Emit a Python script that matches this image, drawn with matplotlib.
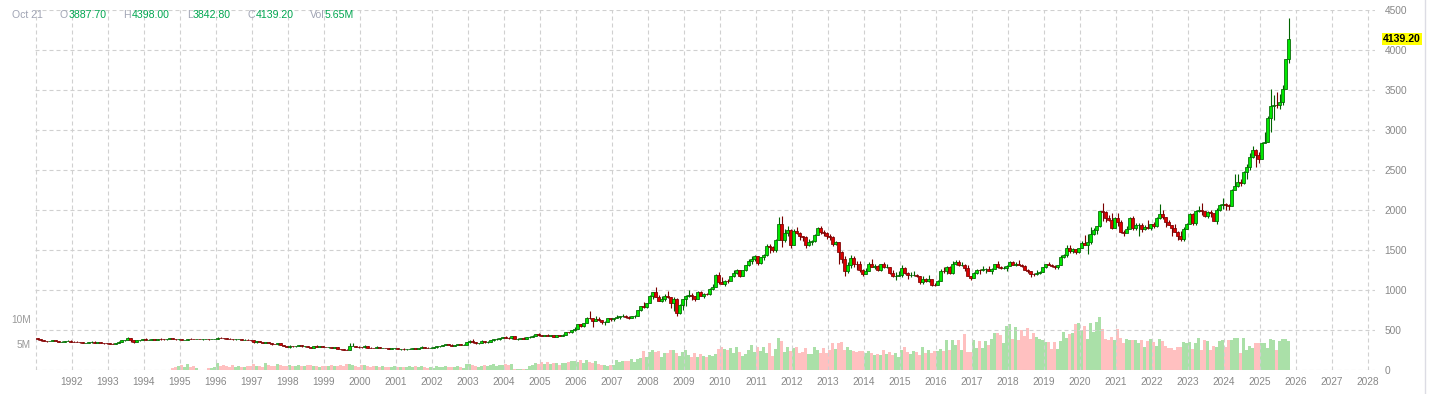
import numpy as np
import matplotlib
matplotlib.use('Agg')
import matplotlib.pyplot as plt
from matplotlib.lines import Line2D
from matplotlib.transforms import blended_transform_factory

plt.rcParams['font.family'] = ['Liberation Sans', 'DejaVu Sans']

# monthly candles, Jan 1991 .. Oct 2025
first_year = 1991
first_open = 400.0

closes = [
    385, 372, 364, 360, 363, 370, 365, 352, 356, 360, 368, 356,  # 1991
    354, 353, 345, 340, 340, 344, 356, 342, 349, 340, 336, 333,  # 1992
    329, 328, 337, 355, 377, 378, 401, 372, 356, 369, 371, 391,  # 1993
    378, 381, 390, 376, 387, 386, 384, 385, 394, 389, 383, 383,  # 1994
    375, 376, 392, 390, 387, 388, 383, 383, 384, 383, 387, 387,  # 1995
    405, 400, 396, 392, 391, 382, 385, 386, 379, 379, 371, 369,  # 1996
    346, 358, 349, 340, 345, 334, 326, 325, 332, 311, 296, 290,  # 1997
    304, 297, 301, 309, 294, 296, 288, 273, 294, 292, 294, 288,  # 1998
    287, 288, 279, 286, 267, 261, 256, 255, 300, 300, 292, 290,  # 1999
    284, 294, 279, 275, 274, 289, 277, 278, 275, 265, 270, 274,  # 2000
    266, 267, 258, 264, 265, 270, 266, 273, 293, 279, 275, 279,  # 2001
    282, 297, 302, 309, 326, 318, 304, 312, 324, 318, 318, 348,  # 2002
    368, 348, 336, 339, 364, 346, 355, 375, 384, 386, 398, 416,  # 2003
    399, 396, 427, 387, 393, 395, 391, 410, 416, 429, 452, 438,  # 2004
    423, 437, 429, 436, 417, 436, 429, 433, 473, 470, 495, 518,  # 2005
    569, 556, 584, 654, 645, 616, 634, 626, 599, 606, 648, 635,  # 2006
    651, 668, 670, 681, 659, 650, 669, 673, 745, 795, 783, 838,  # 2007
    928, 975, 917, 866, 888, 931, 913, 833, 884, 716, 816, 884,  # 2008
    928, 942, 924, 891, 979, 927, 954, 953, 1009, 1040, 1182, 1097,  # 2009
    1081, 1118, 1113, 1180, 1215, 1245, 1181, 1248, 1308, 1359, 1386, 1421,  # 2010
    1333, 1410, 1439, 1556, 1536, 1502, 1628, 1829, 1624, 1714, 1746, 1566,  # 2011
    1740, 1711, 1669, 1664, 1561, 1604, 1610, 1691, 1776, 1719, 1714, 1676,  # 2012
    1662, 1578, 1596, 1476, 1393, 1234, 1313, 1396, 1327, 1323, 1250, 1202,  # 2013
    1240, 1321, 1284, 1296, 1246, 1322, 1282, 1287, 1210, 1171, 1175, 1184,  # 2014
    1278, 1213, 1183, 1183, 1190, 1172, 1095, 1132, 1115, 1142, 1065, 1061,  # 2015
    1118, 1238, 1234, 1291, 1215, 1321, 1350, 1312, 1317, 1276, 1173, 1152,  # 2016
    1210, 1253, 1249, 1266, 1268, 1242, 1267, 1321, 1284, 1270, 1276, 1303,  # 2017
    1345, 1318, 1327, 1315, 1299, 1253, 1233, 1206, 1196, 1215, 1226, 1283,  # 2018
    1325, 1316, 1298, 1286, 1311, 1413, 1437, 1529, 1485, 1514, 1473, 1523,  # 2019
    1588, 1566, 1597, 1694, 1751, 1800, 1986, 1973, 1895, 1880, 1780, 1895,  # 2020
    1850, 1728, 1715, 1768, 1905, 1771, 1817, 1818, 1757, 1783, 1774, 1829,  # 2021
    1796, 1901, 1949, 1911, 1848, 1807, 1781, 1726, 1672, 1640, 1768, 1826,  # 2022
    1945, 1836, 1986, 2000, 1982, 1929, 1970, 1966, 1866, 2002, 2057, 2072,  # 2023
    2068, 2054, 2254, 2302, 2346, 2339, 2473, 2536, 2660, 2750, 2682, 2641,  # 2024
    2835, 2849, 3150, 3305, 3315, 3307, 3348, 3516, 3887.7, 4139.2,  # 2025
]

highs = [
    406, 388, 375, 366, 366, 373, 372, 367, 359, 363, 371, 369,
    362, 358, 354, 346, 343, 346, 362, 358, 351, 350, 341, 337,
    335, 334, 338, 357, 378, 380, 410, 406, 374, 372, 376, 392,
    395, 385, 392, 392, 388, 396, 389, 387, 398, 398, 393, 385,
    385, 380, 393, 395, 391, 390, 389, 391, 388, 387, 389, 390,
    418, 416, 401, 400, 394, 392, 390, 390, 387, 385, 383, 373,
    369, 364, 359, 352, 349, 346, 335, 329, 336, 338, 314, 298,
    307, 304, 302, 314, 312, 298, 297, 289, 300, 307, 300, 297,
    292, 291, 290, 291, 289, 268, 264, 259, 338, 340, 305, 295,
    292, 315, 296, 289, 281, 294, 291, 281, 279, 274, 272, 275,
    274, 268, 269, 266, 273, 272, 271, 278, 296, 293, 282, 282,
    285, 302, 304, 310, 327, 330, 322, 313, 326, 325, 324, 349,
    373, 389, 350, 340, 373, 367, 358, 375, 393, 394, 399, 418,
    427, 418, 428, 431, 395, 401, 409, 416, 420, 435, 456, 457,
    443, 439, 446, 437, 437, 442, 438, 447, 475, 481, 497, 538,
    572, 575, 585, 660, 732, 647, 675, 668, 629, 612, 650, 654,
    655, 690, 673, 697, 691, 669, 679, 683, 750, 799, 848, 841,
    935, 975, 1033, 934, 927, 945, 988, 914, 912, 903, 824, 888,
    932, 1006, 958, 930, 983, 990, 958, 966, 1023, 1073, 1196, 1227,
    1161, 1127, 1135, 1180, 1249, 1265, 1244, 1248, 1309, 1388, 1425, 1432,
    1424, 1412, 1448, 1577, 1578, 1556, 1632, 1912, 1920, 1763, 1804, 1763,
    1764, 1792, 1725, 1680, 1670, 1640, 1629, 1694, 1790, 1798, 1755, 1724,
    1698, 1681, 1617, 1605, 1488, 1424, 1347, 1434, 1426, 1362, 1361, 1267,
    1280, 1345, 1392, 1331, 1315, 1326, 1346, 1324, 1287, 1256, 1223, 1238,
    1307, 1284, 1224, 1224, 1232, 1205, 1175, 1170, 1156, 1191, 1142, 1088,
    1130, 1263, 1287, 1306, 1303, 1362, 1377, 1375, 1352, 1326, 1307, 1181,
    1220, 1264, 1261, 1295, 1272, 1297, 1275, 1331, 1362, 1306, 1300, 1310,
    1366, 1362, 1356, 1370, 1326, 1309, 1262, 1236, 1214, 1245, 1240, 1285,
    1326, 1349, 1330, 1310, 1311, 1443, 1453, 1566, 1566, 1519, 1516, 1525,
    1613, 1691, 1704, 1788, 1775, 1800, 1986, 2089, 1992, 1933, 1966, 1907,
    1959, 1876, 1755, 1798, 1917, 1919, 1837, 1834, 1836, 1813, 1877, 1831,
    1853, 1914, 2078, 2002, 1912, 1880, 1814, 1824, 1735, 1734, 1786, 1833,
    1959, 1959, 2003, 2048, 2085, 1985, 1988, 2000, 1953, 2019, 2073, 2152,
    2088, 2075, 2257, 2448, 2454, 2388, 2485, 2570, 2708, 2801, 2762, 2726,
    2853, 2975, 3176, 3509, 3435, 3476, 3451, 3557, 3889, 4398,
]

lows = [
    381, 368, 358, 356, 357, 360, 361, 349, 349, 354, 357, 353,
    352, 350, 343, 337, 336, 338, 342, 339, 340, 338, 331, 330,
    326, 326, 327, 336, 355, 366, 377, 350, 343, 355, 362, 370,
    373, 375, 379, 371, 374, 381, 380, 374, 384, 386, 381, 374,
    371, 372, 374, 388, 382, 382, 382, 380, 382, 381, 382, 384,
    387, 396, 393, 390, 389, 381, 380, 384, 378, 378, 370, 367,
    342, 341, 348, 336, 339, 332, 314, 319, 316, 307, 294, 285,
    279, 290, 293, 299, 292, 284, 287, 271, 273, 289, 292, 285,
    283, 280, 279, 279, 266, 256, 253, 252, 255, 294, 290, 276,
    281, 280, 276, 272, 270, 276, 276, 271, 269, 264, 264, 264,
    262, 255, 256, 256, 264, 266, 265, 264, 271, 276, 272, 272,
    277, 280, 290, 300, 308, 317, 303, 301, 312, 311, 316, 319,
    343, 338, 324, 324, 338, 342, 342, 353, 368, 371, 381, 398,
    396, 391, 390, 384, 375, 383, 388, 386, 397, 411, 429, 431,
    419, 421, 425, 425, 415, 416, 419, 429, 433, 460, 459, 488,
    518, 538, 541, 584, 642, 542, 612, 612, 574, 560, 603, 612,
    608, 645, 637, 665, 650, 639, 649, 648, 673, 735, 776, 780,
    836, 882, 911, 864, 856, 859, 902, 772, 735, 681, 705, 752,
    802, 913, 879, 865, 882, 920, 904, 934, 940, 997, 1041, 1075,
    1073, 1045, 1088, 1125, 1158, 1201, 1157, 1177, 1240, 1306, 1329, 1357,
    1309, 1330, 1381, 1421, 1462, 1478, 1481, 1620, 1532, 1604, 1670, 1523,
    1562, 1694, 1628, 1610, 1527, 1551, 1567, 1595, 1687, 1694, 1672, 1636,
    1626, 1555, 1565, 1322, 1338, 1180, 1208, 1275, 1292, 1251, 1228, 1180,
    1203, 1238, 1282, 1268, 1240, 1240, 1281, 1273, 1205, 1161, 1131, 1169,
    1168, 1200, 1142, 1167, 1170, 1162, 1077, 1081, 1097, 1104, 1053, 1046,
    1061, 1110, 1208, 1206, 1199, 1200, 1310, 1302, 1305, 1242, 1171, 1123,
    1147, 1204, 1196, 1243, 1214, 1237, 1205, 1266, 1280, 1260, 1265, 1237,
    1302, 1307, 1303, 1312, 1285, 1250, 1211, 1160, 1181, 1182, 1196, 1222,
    1278, 1312, 1286, 1268, 1267, 1310, 1395, 1411, 1465, 1462, 1454, 1461,
    1519, 1566, 1451, 1572, 1682, 1700, 1787, 1863, 1851, 1859, 1765, 1776,
    1803, 1716, 1677, 1722, 1770, 1750, 1750, 1678, 1722, 1746, 1763, 1753,
    1781, 1784, 1890, 1885, 1787, 1808, 1681, 1724, 1622, 1617, 1618, 1765,
    1827, 1809, 1811, 1971, 1943, 1913, 1902, 1913, 1859, 1823, 1984, 2018,
    2002, 2001, 2051, 2280, 2286, 2304, 2331, 2392, 2497, 2645, 2541, 2590,
    2633, 2835, 2845, 2970, 3121, 3281, 3268, 3315, 3510, 3842.8,
]

# volume in millions
volumes = [
    0, 0, 0, 0, 0, 0, 0, 0, 0, 0, 0, 0,
    0, 0, 0, 0, 0, 0, 0, 0, 0, 0, 0, 0,
    0, 0, 0, 0, 0, 0, 0, 0, 0, 0, 0, 0,
    0, 0, 0, 0, 0, 0, 0, 0, 0, 0.3, 0.6, 0.8,
    1.0, 0.6, 1.1, 0.5, 0.7, 0.4, 0, 0, 0, 0.3, 0.4, 0.5,
    1.3, 0.8, 0.9, 0.8, 0.6, 0.9, 0.5, 0.7, 0.6, 0.5, 0.8, 0.7,
    1.2, 0.7, 0.8, 0.6, 1.3, 0.9, 0.8, 0.7, 1.1, 0.9, 0.8, 0.7,
    1.0, 0.7, 0.8, 0.9, 0.8, 0.7, 0.9, 1.0, 0.7, 0.8, 0.6, 0.7,
    0.8, 0.7, 0.9, 0.8, 0.7, 1.0, 0.8, 1.1, 1.2, 0.9, 0.8, 0.6,
    0.9, 1.0, 0.7, 0.6, 0.8, 0.7, 0.6, 0.7, 0.5, 0.6, 0.5, 0.7,
    0.6, 0.5, 0.5, 0.6, 0.7, 0.5, 0.8, 0.5, 0.7, 0.5, 0.4, 0.5,
    0.4, 0.7, 0.5, 0.6, 0.8, 0.6, 0.5, 0.6, 0.7, 0.5, 0.4, 1.1,
    1.2, 0.9, 0.8, 0.5, 0.8, 0.9, 0.7, 0.9, 1.1, 0.8, 0.9, 1.0,
    1.2, 1.0, 1.1, 0.1, 0.2, 0.1, 0.1, 0.1, 0.7, 1.0, 1.4, 1.1,
    1.5, 1.2, 1.5, 1.1, 1.3, 1.3, 0.9, 1.3, 1.4, 1.5, 1.7, 1.8,
    1.6, 1.9, 1.3, 1.9, 1.5, 1.3, 1.7, 1.2, 1.0, 0.9, 0.8, 0.9,
    1.0, 1.9, 1.5, 1.8, 1.7, 1.8, 2.1, 1.6, 2.1, 2.4, 3.8, 2.6,
    3.6, 4.0, 3.6, 3.8, 2.6, 3.4, 3.3, 4.0, 3.9, 3.4, 2.7, 3.5,
    4.0, 3.0, 2.6, 3.3, 2.5, 3.1, 2.7, 2.6, 3.0, 2.7, 3.1, 4.2,
    4.6, 4.2, 3.9, 4.4, 3.4, 4.6, 3.5, 2.8, 3.2, 4.0, 4.9, 3.5,
    4.6, 3.7, 4.6, 3.4, 5.3, 2.8, 4.2, 6.3, 5.6, 3.6, 4.6, 3.7,
    4.3, 4.6, 3.4, 3.6, 4.4, 3.2, 3.1, 4.6, 4.0, 3.4, 4.4, 3.3,
    4.0, 5.2, 4.2, 5.3, 5.5, 4.0, 4.6, 3.9, 3.8, 3.5, 3.8, 3.8,
    3.4, 3.8, 3.3, 3.0, 3.2, 3.0, 3.9, 3.2, 3.5, 3.0, 3.3, 2.6,
    4.0, 4.5, 3.5, 3.2, 3.7, 3.5, 2.9, 4.5, 3.3, 4.0, 3.3, 3.7,
    3.8, 4.2, 3.8, 5.9, 4.0, 5.9, 5.0, 5.9, 4.0, 7.1, 3.6, 3.5,
    5.9, 4.3, 5.7, 4.3, 5.7, 5.0, 6.0, 7.2, 7.3, 6.8, 5.3, 8.6,
    9.1, 6.0, 8.4, 5.9, 7.9, 6.6, 8.3, 6.0, 7.3, 6.5, 6.0, 5.9,
    5.5, 5.5, 4.2, 5.5, 4.2, 5.6, 7.5, 6.2, 7.0, 7.2, 9.0, 9.2,
    7.9, 8.6, 6.0, 9.2, 7.5, 9.5, 10.3, 8.0, 6.0, 5.8, 6.5, 5.8,
    8.0, 6.3, 5.2, 6.0, 5.8, 5.9, 5.9, 5.2, 5.9, 4.5, 5.7, 6.0,
    5.5, 4.7, 6.1, 5.7, 4.8, 4.3, 4.3, 4.0, 4.5, 4.5, 5.4, 5.3,
    5.4, 4.2, 5.3, 6.2, 3.9, 5.8, 5.6, 3.9, 4.7, 4.6, 5.6, 5.9,
    4.5, 5.8, 5.8, 6.3, 6.2, 3.3, 6.2, 4.0, 4.8, 4.3, 5.2, 5.2,
    5.3, 5.3, 4.3, 6.0, 5.9, 4.0, 5.7, 6.0, 6.1, 5.65,
]

year_ticks = list(range(1991, 2029))
price_ticks = list(range(0, 4501, 500))

opens = [first_open] + closes[:-1]
n = len(closes)
t = first_year + (np.arange(n) + 0.5) / 12
o = np.array(opens)
c = np.array(closes)
up = c >= o

W, H = 1432, 394
fig = plt.figure(figsize=(W / 100, H / 100), dpi=100)
rect = [35 / W, 24 / H, 1340 / W, 360 / H]
axv = fig.add_axes(rect)
ax = axv.twinx()

grid_kw = dict(color='#d0d0d0', linewidth=0.8, linestyle=(0, (3.6, 2.7)))

# volume
vcol = np.where(up, '#aae0a8', '#ffc0c0')
axv.bar(t, volumes, width=1 / 12, color=vcol, linewidth=0, zorder=1)
axv.set_ylim(0, 360 / 5.1)
axv.set_yticks([5, 10])
axv.set_yticklabels(['5M', '10M'])
axv.set_xticks(year_ticks)
axv.set_xticklabels([''] + [str(y) for y in year_ticks[1:]])
axv.set_xlim(first_year - 1 / 36, 2028 + 7 / 36)
axv.grid(axis='x', **grid_kw)
axv.tick_params(axis='x', length=0, pad=5, labelsize=7.3, labelcolor='#888888')
axv.tick_params(axis='y', length=0, pad=3, labelsize=7.3, labelcolor='#999999')

# candles
edge = np.where(up, '#006400', '#7a0000')
face = np.where(up, '#00e800', '#dd0000')
ax.vlines(t, lows, highs, colors=edge, linewidth=0.8, zorder=3)
ax.bar(t, np.abs(c - o), bottom=np.minimum(o, c), width=0.75 / 12,
       color=face, edgecolor=edge, linewidth=0.55, zorder=4)
ax.set_ylim(0, 4500)
ax.set_yticks(price_ticks)
ax.grid(axis='y', **grid_kw)
ax.set_axisbelow(True)
ax.tick_params(axis='y', length=0, pad=7, labelsize=7.3, labelcolor='#888888')

for a in (ax, axv):
    for s in a.spines.values():
        s.set_visible(False)

# last price tag
tr = blended_transform_factory(ax.transAxes, ax.transData)
ax.text(1 + 8 / 1340, closes[-1], f'{closes[-1]:.2f}', transform=tr,
        ha='left', va='center', fontsize=7.6, fontweight='bold', color='black',
        bbox=dict(boxstyle='square,pad=0.12', fc='#ffff00', ec='none'))

# header
gray = '#a0a4b4'
green = '#00a650'
hy = 1 - 15.5 / H
items = [
    (12, 'Oct 21', gray), (59, 'O', gray), (69, f'{opens[-1]:.2f}', green),
    (123, 'H', gray), (132, f'{highs[-1]:.2f}', green),
    (187, 'L', gray), (193, f'{lows[-1]:.2f}', green),
    (247, 'C', gray), (256, f'{closes[-1]:.2f}', green),
    (310, 'Vol', gray), (325, f'{volumes[-1]:.2f}M', green),
]
for x, s, col in items:
    fig.text(x / W, hy, s, color=col, fontsize=7.6, ha='left', va='center')

fig.add_artist(Line2D([1424.5 / W] * 2, [0, 1], color='#dcdce4', linewidth=1))

fig.savefig('out.png', dpi=100)
